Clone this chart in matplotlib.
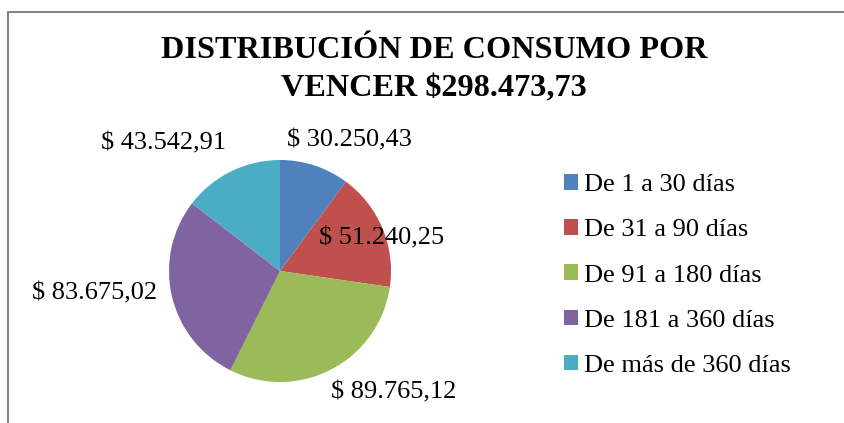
import matplotlib.pyplot as plt
import numpy as np
from matplotlib.patches import Rectangle

plt.rcParams['font.family'] = ['Liberation Serif', 'DejaVu Serif']

# datos
categorias = ['De 1 a 30 días', 'De 31 a 90 días', 'De 91 a 180 días',
              'De 181 a 360 días', 'De más de 360 días']
valores = [30250.43, 51240.25, 89765.12, 83675.02, 43542.91]
etiquetas = ['$ 30.250,43', '$ 51.240,25', '$ 89.765,12',
             '$ 83.675,02', '$ 43.542,91']
titulo = 'DISTRIBUCIÓN DE CONSUMO POR\nVENCER $298.473,73'

colores = ['#4F81BD', '#C0504D', '#9BBB59', '#8064A2', '#4BACC6']

W, H = 845, 423
fig = plt.figure(figsize=(W / 100, H / 100), dpi=100)

# marco del grafico (solo se ven arriba e izquierda)
fig.patches.append(Rectangle((8 / W, -0.1), 1.2, 1 - 12 / H + 0.1,
                             transform=fig.transFigure, fill=False,
                             edgecolor='#868686', linewidth=1.5))

# pie centrado en (280, 271) px, radio 111 px
cx, cy, r = 280, 271, 111
ax = fig.add_axes([(cx - r) / W, (H - cy - r) / H, 2 * r / W, 2 * r / H])
wedges, _ = ax.pie(valores, colors=colores, startangle=90, counterclock=False,
                   radius=1, wedgeprops=dict(linewidth=0))
ax.set_xlim(-1, 1)
ax.set_ylim(-1, 1)
ax.set_aspect('equal')
ax.axis('off')

# posicion de etiquetas (distancia radial, angulo) tipo Excel
pos_etq = [(1.33, 62), (0.96, 18), (1.50, -47), (1.68, 186.8), (1.56, 132.4)]
for txt, (d, a) in zip(etiquetas, pos_etq):
    ax.text(d * np.cos(np.radians(a)), d * np.sin(np.radians(a)), txt,
            ha='center', va='center', fontsize=19, clip_on=False)

fig.text(434 / W, 1 - 70 / H, titulo, ha='center', va='center',
         fontsize=23.2, fontweight='bold', linespacing=1.44)

fig.legend(wedges, categorias, loc='center left',
           bbox_to_anchor=(553 / W, 1 - 275.5 / H), frameon=False,
           fontsize=19, handlelength=0.53, handleheight=0.53,
           handletextpad=0.25, labelspacing=0.87, borderaxespad=0)

fig.savefig('out.png', dpi=100)
